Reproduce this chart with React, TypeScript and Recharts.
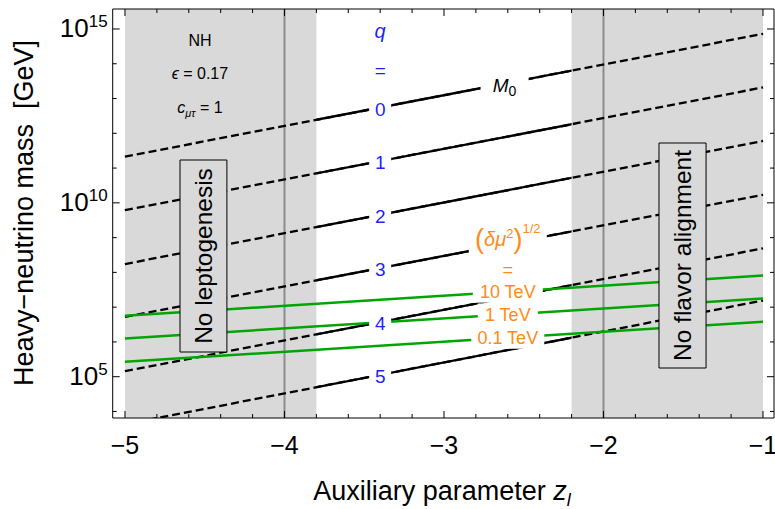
import React from 'react';
import {
  ComposedChart,
  Line,
  XAxis,
  YAxis,
  ReferenceArea,
  ReferenceLine,
  ReferenceDot,
} from 'recharts';

const FONT = '"Liberation Sans", Arial, Helvetica, sans-serif';
const GREY = '#d9d9d9';
const GREEN = '#00a500';
const ORANGE = '#ff8a1a';
const BLUE = '#1f1fff';

// z_l at the two ends of every contour
const zEnds = [-5, -1];

// M_0 contours, q = 0..5 : log10(M / GeV) at z_l = -5 and z_l = -1
const qValues = ['0', '1', '2', '3', '4', '5'];
const qAtLeft = [11.33, 9.79, 8.24, 6.72, 5.16, 3.63];
const qAtRight = [14.86, 13.32, 11.78, 10.23, 8.69, 7.19];

// (delta mu^2)^(1/2) contours : log10(M / GeV) at z_l = -5 and z_l = -1
const deltaValues = ['10 TeV', '1 TeV', '0.1 TeV'];
const deltaAtLeft = [6.75, 6.1, 5.43];
const deltaAtRight = [7.91, 7.25, 6.58];

// shaded z_l ranges and the boundaries drawn inside them
const excludedRanges = [
  [-5, -3.8],
  [-2.2, -1],
];
const boundaries = [-4, -2];

const xMajor = [-5, -4, -3, -2, -1];
const xTicks = [
  -5, -4.8, -4.6, -4.4, -4.2, -4, -3.8, -3.6, -3.4, -3.2, -3, -2.8, -2.6, -2.4, -2.2, -2, -1.8,
  -1.6, -1.4, -1.2, -1,
];
const yMajor = [5, 10, 15];
const yTicks = [4, 5, 6, 7, 8, 9, 10, 11, 12, 13, 14, 15];

const X_DOMAIN: [number, number] = [-5.077, -0.931];
const Y_DOMAIN: [number, number] = [3.812, 15.575];

const qLabelZ = -3.4;
const m0LabelZ = -2.62;
const deltaLabelZ = -2.6;

const lineData = (left: number, right: number) => [
  { z: zEnds[0], m: left },
  { z: zEnds[1], m: right },
];
// position of a label sitting on a straight contour
const on = (left: number, right: number, z: number) =>
  left + ((right - left) * (z - zEnds[0])) / (zEnds[1] - zEnds[0]);

const isIn = (v: number, list: number[]) => list.some((m) => Math.abs(m - v) < 1e-6);

const BottomTick = (p: any) => {
  const major = isIn(p.payload.value, xMajor);
  return (
    <g>
      <line x1={p.x} x2={p.x} y1={p.y} y2={p.y - (major ? 7 : 4)} stroke="#000" />
      {major && (
        <text x={p.x} y={p.y + 36} textAnchor="middle" fontFamily={FONT} fontSize={25} fill="#000">
          {'\u2212' + Math.abs(p.payload.value)}
        </text>
      )}
    </g>
  );
};

const TopTick = (p: any) => {
  const major = isIn(p.payload.value, xMajor);
  return <line x1={p.x} x2={p.x} y1={p.y} y2={p.y + (major ? 7 : 4)} stroke="#000" />;
};

const LeftTick = (p: any) => {
  const major = isIn(p.payload.value, yMajor);
  return (
    <g>
      <line x1={p.x} x2={p.x + (major ? 7 : 4)} y1={p.y} y2={p.y} stroke="#000" />
      {major && (
        <text x={p.x - 5} y={p.y + 8} textAnchor="end" fontFamily={FONT} fontSize={26} fill="#000">
          <tspan>10</tspan>
          <tspan dy={-10} fontSize={17}>
            {p.payload.value}
          </tspan>
        </text>
      )}
    </g>
  );
};

const RightTick = (p: any) => {
  const major = isIn(p.payload.value, yMajor);
  return <line x1={p.x} x2={p.x - (major ? 7 : 4)} y1={p.y} y2={p.y} stroke="#000" />;
};

// text with a white patch behind it, cutting the contour it sits on
const boxed =
  (w: number, h: number, dy: number, draw: (cx: number, cy: number) => React.ReactNode) =>
  (p: any) =>
    (
      <g>
        <rect x={p.cx - w / 2} y={p.cy + dy - h / 2} width={w} height={h} fill="#fff" />
        {draw(p.cx, p.cy + dy)}
      </g>
    );

const plain = (draw: (cx: number, cy: number) => React.ReactNode) => (p: any) => <g>{draw(p.cx, p.cy)}</g>;

const boxLabel = (text: string) => (p: any) => {
  const vb = p.viewBox;
  const cx = vb.x + vb.width / 2;
  const cy = vb.y + vb.height / 2;
  return (
    <text
      x={cx}
      y={cy}
      transform={`rotate(-90 ${cx} ${cy})`}
      textAnchor="middle"
      dy={8.5}
      fontFamily={FONT}
      fontSize={24.5}
      fill="#000"
    >
      {text}
    </text>
  );
};

const xTitle = () => (
  <text x={442} y={500} textAnchor="middle" fontFamily={FONT} fontSize={27} fill="#000">
    Auxiliary parameter{' '}
    <tspan fontStyle="italic">z</tspan>
    <tspan fontStyle="italic" fontSize={18} dy={6}>
      l
    </tspan>
  </text>
);

const yTitle = () => (
  <text
    x={33}
    y={213}
    transform="rotate(-90 33 213)"
    textAnchor="middle"
    fontFamily={FONT}
    fontSize={27}
    fill="#000"
    style={{ whiteSpace: 'pre' }}
  >
    {'Heavy\u2212neutrino mass  [GeV]'}
  </text>
);

export default function App() {
  const lineProps = {
    type: 'linear' as const,
    dataKey: 'm',
    dot: false,
    activeDot: false,
    isAnimationActive: false,
    legendType: 'none' as const,
  };

  return (
    <div style={{ position: 'absolute', left: 0, top: 0, background: '#fff' }}>
      <ComposedChart width={775} height={509} margin={{ top: 8, right: 0, bottom: 0, left: 0 }}>
        {qAtLeft.map((l, i) => (
          <Line
            key={`solid-${i}`}
            {...lineProps}
            data={lineData(l, qAtRight[i])}
            stroke="#000"
            strokeWidth={2.3}
            zIndex={110}
          />
        ))}

        {excludedRanges.map(([a, b], i) => (
          <ReferenceArea
            key={`ex-${i}`}
            x1={a}
            x2={b}
            y1={Y_DOMAIN[0]}
            y2={Y_DOMAIN[1]}
            fill={GREY}
            fillOpacity={1}
            stroke="none"
            ifOverflow="hidden"
            zIndex={120}
          />
        ))}

        {boundaries.map((z) => (
          <ReferenceLine key={`b-${z}`} x={z} stroke="#8c8c8c" strokeWidth={2} zIndex={130} />
        ))}

        {qAtLeft.map((l, i) => (
          <Line
            key={`dash-${i}`}
            {...lineProps}
            data={lineData(l, qAtRight[i])}
            stroke="#000"
            strokeWidth={2.3}
            strokeDasharray="8 4"
            zIndex={140}
          />
        ))}

        {deltaAtLeft.map((l, i) => (
          <Line
            key={`delta-${i}`}
            {...lineProps}
            data={lineData(l, deltaAtRight[i])}
            stroke={GREEN}
            strokeWidth={2.5}
            zIndex={150}
          />
        ))}

        {/* q labels on the M_0 contours */}
        {qValues.map((q, i) => (
          <ReferenceDot
            key={`ql-${q}`}
            x={qLabelZ}
            y={on(qAtLeft[i], qAtRight[i], qLabelZ)}
            r={0}
            zIndex={160}
            shape={boxed(22, 20, 1, (cx, cy) => (
              <text x={cx} y={cy + 7} textAnchor="middle" fontFamily={FONT} fontSize={19} fill={BLUE}>
                {q}
              </text>
            ))}
          />
        ))}
        <ReferenceDot
          x={qLabelZ}
          y={14.885}
          r={0}
          zIndex={160}
          shape={plain((cx, cy) => (
            <text x={cx} y={cy + 5} textAnchor="middle" fontFamily={FONT} fontSize={20} fontStyle="italic" fill={BLUE}>
              q
            </text>
          ))}
        />
        <ReferenceDot
          x={qLabelZ}
          y={13.79}
          r={0}
          zIndex={160}
          shape={plain((cx, cy) => (
            <text x={cx} y={cy + 6} textAnchor="middle" fontFamily={FONT} fontSize={19} fill={BLUE}>
              =
            </text>
          ))}
        />
        <ReferenceDot
          x={m0LabelZ}
          y={on(qAtLeft[0], qAtRight[0], m0LabelZ)}
          r={0}
          zIndex={160}
          shape={boxed(48, 22, 2, (cx, cy) => (
            <text x={cx} y={cy + 6} textAnchor="middle" fontFamily={FONT} fontSize={19} fill="#000">
              <tspan fontStyle="italic">M</tspan>
              <tspan fontSize={14} dy={4}>
                0
              </tspan>
            </text>
          ))}
        />

        {/* (delta mu^2)^(1/2) labels */}
        <ReferenceDot
          x={deltaLabelZ}
          y={on(qAtLeft[3], qAtRight[3], deltaLabelZ)}
          r={0}
          zIndex={160}
          shape={boxed(78, 32, -5, (cx, cy) => (
            <text x={cx} y={cy + 7} textAnchor="middle" fontFamily={FONT} fontSize={20} fill={ORANGE}>
              <tspan fontSize={27} dy={2}>(</tspan>
              <tspan fontStyle="italic" dy={-2}>δμ</tspan>
              <tspan fontSize={13} dy={-8}>2</tspan>
              <tspan fontSize={27} dy={10}>)</tspan>
              <tspan fontSize={13} dy={-15}>1/2</tspan>
            </text>
          ))}
        />
        <ReferenceDot
          x={deltaLabelZ}
          y={8.08}
          r={0}
          zIndex={160}
          shape={plain((cx, cy) => (
            <text x={cx} y={cy + 6} textAnchor="middle" fontFamily={FONT} fontSize={18} fill={ORANGE}>
              =
            </text>
          ))}
        />
        {deltaValues.map((d, i) => (
          <ReferenceDot
            key={`dl-${d}`}
            x={deltaLabelZ}
            y={on(deltaAtLeft[i], deltaAtRight[i], deltaLabelZ)}
            r={0}
            zIndex={160}
            shape={boxed([70, 60, 73][i], 22, 0, (cx, cy) => (
              <text x={cx} y={cy + 6.5} textAnchor="middle" fontFamily={FONT} fontSize={18} fill={ORANGE}>
                {d}
              </text>
            ))}
          />
        ))}

        {/* benchmark parameters */}
        <ReferenceDot
          x={-4.53}
          y={14.68}
          r={0}
          zIndex={160}
          shape={plain((cx, cy) => (
            <text x={cx} y={cy + 6} textAnchor="middle" fontFamily={FONT} fontSize={16} fill="#000">
              NH
            </text>
          ))}
        />
        <ReferenceDot
          x={-4.53}
          y={13.73}
          r={0}
          zIndex={160}
          shape={plain((cx, cy) => (
            <text x={cx} y={cy + 6} textAnchor="middle" fontFamily={FONT} fontSize={16} fill="#000">
              <tspan fontStyle="italic">ϵ</tspan> = 0.17
            </text>
          ))}
        />
        <ReferenceDot
          x={-4.53}
          y={12.76}
          r={0}
          zIndex={160}
          shape={plain((cx, cy) => (
            <text x={cx} y={cy + 6} textAnchor="middle" fontFamily={FONT} fontSize={16} fill="#000">
              <tspan fontStyle="italic">c</tspan>
              <tspan fontStyle="italic" fontSize={11} dy={4}>
                μτ
              </tspan>
              <tspan dy={-4}> = 1</tspan>
            </text>
          ))}
        />

        <ReferenceArea
          x1={-4.655}
          x2={-4.361}
          y1={5.71}
          y2={11.232}
          fill={GREY}
          fillOpacity={1}
          stroke="#000"
          strokeWidth={1}
          zIndex={170}
          label={boxLabel('No leptogenesis')}
        />
        <ReferenceArea
          x1={-1.652}
          x2={-1.357}
          y1={5.25}
          y2={11.721}
          fill={GREY}
          fillOpacity={1}
          stroke="#000"
          strokeWidth={1}
          zIndex={170}
          label={boxLabel('No flavor alignment')}
        />

        <XAxis
          type="number"
          dataKey="z"
          domain={X_DOMAIN}
          allowDataOverflow
          ticks={xTicks}
          interval={0}
          tickSize={0}
          tickMargin={0}
          tickLine={false}
          tick={BottomTick}
          axisLine={{ stroke: '#000' }}
          height={91}
          label={xTitle}
        />
        <XAxis
          xAxisId="top"
          orientation="top"
          type="number"
          dataKey="z"
          domain={X_DOMAIN}
          allowDataOverflow
          ticks={xTicks}
          interval={0}
          tickSize={0}
          tickMargin={0}
          tickLine={false}
          tick={TopTick}
          axisLine={{ stroke: '#000' }}
          height={1}
        />
        <YAxis
          type="number"
          domain={Y_DOMAIN}
          allowDataOverflow
          ticks={yTicks}
          interval={0}
          tickSize={0}
          tickMargin={0}
          tickLine={false}
          tick={LeftTick}
          axisLine={{ stroke: '#000' }}
          width={112.7}
          label={yTitle}
        />
        <YAxis
          yAxisId="right"
          orientation="right"
          type="number"
          domain={Y_DOMAIN}
          allowDataOverflow
          ticks={yTicks}
          interval={0}
          tickSize={0}
          tickMargin={0}
          tickLine={false}
          tick={RightTick}
          axisLine={{ stroke: '#000' }}
          width={1}
        />
      </ComposedChart>
    </div>
  );
}
